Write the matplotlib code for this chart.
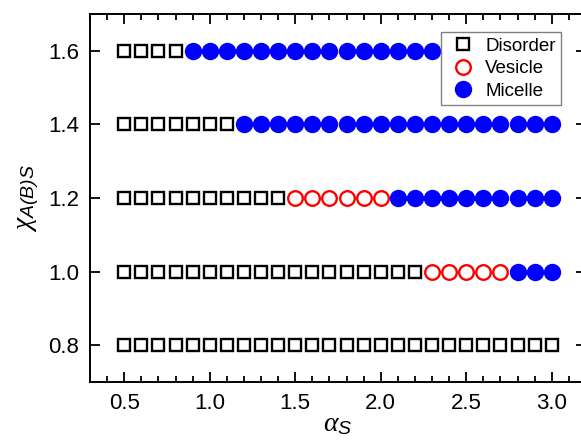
import matplotlib
matplotlib.use("Agg")
import matplotlib.pyplot as plt
from matplotlib.ticker import MultipleLocator, FormatStrFormatter

plt.rcParams["font.family"] = ["Liberation Sans", "DejaVu Sans"]
plt.rcParams["mathtext.fontset"] = "custom"
plt.rcParams["mathtext.it"] = "Liberation Serif:italic"
plt.rcParams["mathtext.rm"] = "Liberation Sans"
plt.rcParams["mathtext.sf"] = "Liberation Sans:italic"

# Reduced solvent parameter values scanned along each row
alpha_s = [0.5, 0.6, 0.7, 0.8, 0.9, 1.0, 1.1, 1.2, 1.3, 1.4, 1.5, 1.6, 1.7,
           1.8, 1.9, 2.0, 2.1, 2.2, 2.3, 2.4, 2.5, 2.6, 2.7, 2.8, 2.9, 3.0]

chi_levels = [0.8, 1.0, 1.2, 1.4, 1.6]

# Observed morphology per point: D = disorder, V = vesicle, M = micelle
phase_rows = [
    "DDDDDDDDDDDDDDDDDDDDDDDDDD",
    "DDDDDDDDDDDDDDDDDDVVVVVMMM",
    "DDDDDDDDDDVVVVVVMMMMMMMMMM",
    "DDDDDDDMMMMMMMMMMMMMMMMMMM",
    "DDDDMMMMMMMMMMMMMMMMMMMMMM",
]

styles = {
    "D": dict(marker="s", ms=9.3, mfc="none", mec="black", mew=1.7, label="Disorder"),
    "V": dict(marker="o", ms=10.5, mfc="none", mec="#ff0000", mew=1.7, label="Vesicle"),
    "M": dict(marker="o", ms=11.5, mfc="#0000ff", mec="#0000ff", mew=1.0, label="Micelle"),
}

fig = plt.figure(figsize=(5.81, 4.42), dpi=100)
# right spine sits just past the figure edge
ax = fig.add_axes([90 / 581, 1 - 382 / 442, 496 / 581, 368 / 442])

for code in ["D", "V", "M"]:
    xs, ys = [], []
    for chi, row in zip(chi_levels, phase_rows):
        for a, p in zip(alpha_s, row):
            if p == code:
                xs.append(a)
                ys.append(chi)
    ax.plot(xs, ys, ls="none", **styles[code])

ax.set_xlim(0.3, 3.2)
ax.set_ylim(0.7, 1.7)
ax.xaxis.set_minor_locator(MultipleLocator(0.1))
ax.set_xticks([0.5, 1.0, 1.5, 2.0, 2.5, 3.0])
ax.set_yticks([0.8, 1.0, 1.2, 1.4, 1.6])
ax.xaxis.set_major_formatter(FormatStrFormatter("%.1f"))
ax.yaxis.set_major_formatter(FormatStrFormatter("%.1f"))

ax.tick_params(which="both", direction="in", top=True, right=True,
               labelsize=16, width=1.3, pad=8)
ax.tick_params(which="major", length=7.5)
ax.tick_params(which="minor", length=4)
for sp in ax.spines.values():
    sp.set_linewidth(1.4)

ax.set_xlabel(r"$\alpha_{\mathsf{S}}$", fontsize=20, labelpad=-2)
ax.set_ylabel(r"$\chi_{\mathsf{A(B)S}}$", fontsize=20, labelpad=5)

leg = ax.legend(loc="upper left", bbox_to_anchor=(441 / 581, 1 - 32 / 442),
                bbox_transform=fig.transFigure, fontsize=13.5, frameon=True,
                fancybox=False, framealpha=1, edgecolor="#808080",
                borderpad=0.3, handletextpad=0.35, labelspacing=0.28,
                handlelength=1.7, borderaxespad=0)
leg.get_frame().set_linewidth(1.0)
leg.set_zorder(10)

fig.savefig("out.png", dpi=100)
